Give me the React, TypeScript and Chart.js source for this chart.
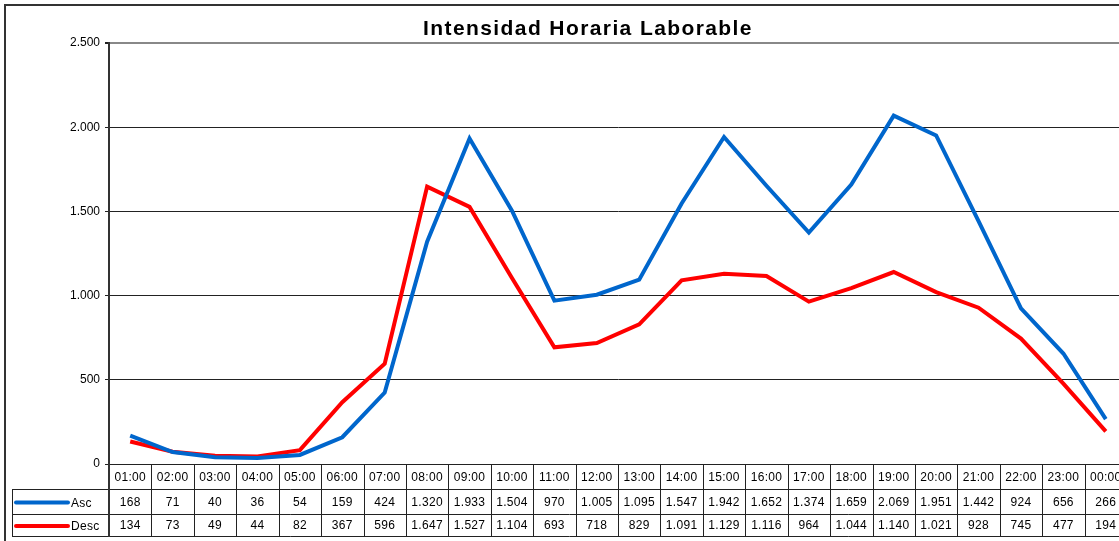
import React, { useEffect, useRef } from "react";
import { Chart, registerables } from "chart.js";

Chart.register(...registerables);

const TITLE = "Intensidad Horaria Laborable";
const HOURS = ["01:00","02:00","03:00","04:00","05:00","06:00","07:00","08:00","09:00","10:00","11:00","12:00","13:00","14:00","15:00","16:00","17:00","18:00","19:00","20:00","21:00","22:00","23:00","00:00"];
const ASC = [168,71,40,36,54,159,424,1320,1933,1504,970,1005,1095,1547,1942,1652,1374,1659,2069,1951,1442,924,656,266];
const DESC = [134,73,49,44,82,367,596,1647,1527,1104,693,718,829,1091,1129,1116,964,1044,1140,1021,928,745,477,194];
const SERIES_NAMES = ["Asc", "Desc"];
const SERIES_COLORS = ["#0066CC", "#FF0000"];
const Y_MAX = 2500;
const Y_STEP = 500;

const fmt = (v: number) => String(Math.round(v)).replace(/\B(?=(\d{3})+(?!\d))/g, ".");
const FONT = "Liberation Sans, Arial, sans-serif";

const decorPlugin = {
  id: "decor",
  afterDraw(chart: any) {
    const ctx = chart.ctx as any;
    const { left, right, bottom } = chart.chartArea;
    const W = chart.width;
    const H = chart.height;
    ctx.save();
    // outer border
    ctx.strokeStyle = "#333";
    ctx.lineWidth = 2;
    ctx.beginPath();
    ctx.moveTo(5, H + 2);
    ctx.lineTo(5, 5);
    ctx.lineTo(W + 2, 5);
    ctx.stroke();
    // title
    ctx.fillStyle = "#000";
    ctx.font = `bold 21px ${FONT}`;
    ctx.letterSpacing = "1.4px";
    ctx.textAlign = "center";
    ctx.textBaseline = "alphabetic";
    ctx.fillText(TITLE, 588, 35);
    ctx.letterSpacing = "0.3px";

    // table
    const n = HOURS.length;
    const cw = (right - left) / n;
    const rowTops = [bottom, 489, 514, 536];
    const tableLeft = 12;
    ctx.strokeStyle = "#222";
    ctx.lineWidth = 1;
    ctx.beginPath();
    ctx.moveTo(tableLeft, rowTops[1] + 0.5); ctx.lineTo(W, rowTops[1] + 0.5);
    ctx.moveTo(tableLeft, rowTops[2] + 0.5); ctx.lineTo(W, rowTops[2] + 0.5);
    ctx.moveTo(tableLeft, rowTops[3] + 0.5); ctx.lineTo(W, rowTops[3] + 0.5);
    ctx.moveTo(tableLeft + 0.5, rowTops[1]); ctx.lineTo(tableLeft + 0.5, rowTops[3]);
    for (let i = 1; i <= n; i++) {
      const x = Math.round(left + i * cw) + 0.5;
      ctx.moveTo(x, bottom); ctx.lineTo(x, rowTops[3]);
    }
    ctx.stroke();
    ctx.strokeStyle = "#333";
    ctx.lineWidth = 2;
    ctx.beginPath();
    ctx.moveTo(left, bottom); ctx.lineTo(left, rowTops[3] + 1);
    ctx.stroke();

    ctx.fillStyle = "#000";
    ctx.font = `12px ${FONT}`;
    ctx.textAlign = "center";
    ctx.textBaseline = "middle";
    const xs = chart.scales.x;
    const rowData = [ASC, DESC];
    for (let i = 0; i < n; i++) {
      const cx = xs.getPixelForValue(i);
      ctx.fillText(HOURS[i], cx, (rowTops[0] + rowTops[1]) / 2 + 1);
      for (let r = 0; r < 2; r++) {
        ctx.fillText(fmt(rowData[r][i]), cx, (rowTops[r + 1] + rowTops[r + 2]) / 2 + 1);
      }
    }
    for (let r = 0; r < 2; r++) {
      const cy = (rowTops[r + 1] + rowTops[r + 2]) / 2 + 1;
      ctx.strokeStyle = SERIES_COLORS[r];
      ctx.lineWidth = 4;
      ctx.lineCap = "round";
      ctx.beginPath();
      ctx.moveTo(16, cy); ctx.lineTo(68, cy);
      ctx.stroke();
      ctx.fillStyle = "#000";
      ctx.textAlign = "left";
      ctx.fillText(SERIES_NAMES[r], 71, cy + 1);
    }
    ctx.restore();
  },
};

export default function App() {
  const ref = useRef<HTMLCanvasElement>(null);
  useEffect(() => {
    document.body.style.margin = "0";
    document.body.style.overflow = "hidden";
    const chart = new Chart(ref.current!, {
      type: "line",
      data: {
        labels: HOURS,
        datasets: [
          { label: SERIES_NAMES[0], data: ASC, borderColor: SERIES_COLORS[0], borderWidth: 4, pointRadius: 0, tension: 0, fill: false },
          { label: SERIES_NAMES[1], data: DESC, borderColor: SERIES_COLORS[1], borderWidth: 4, pointRadius: 0, tension: 0, fill: false },
        ],
      },
      options: {
        animation: false,
        responsive: false,
        layout: { padding: { top: 43, bottom: 77, left: 0, right: 0 } },
        plugins: { legend: { display: false }, title: { display: false }, tooltip: { enabled: false } },
        scales: {
          x: { display: false, offset: true },
          y: {
            min: 0,
            max: Y_MAX,
            afterFit: (s: any) => { s.width = 109; },
            ticks: { stepSize: Y_STEP, color: "#000", font: { family: FONT, size: 12 }, padding: 5, callback: (v: any) => fmt(Number(v)) },
            grid: {
              color: (c: any) => (c.tick && c.tick.value === Y_MAX ? "#888" : "#222"),
              lineWidth: (c: any) => (c.tick && c.tick.value === Y_MAX ? 2 : 1),
              tickLength: 4,
              tickColor: "#222",
            },
            border: { color: "#333", width: 2 },
          },
        },
      },
      plugins: [decorPlugin],
    });
    return () => chart.destroy();
  }, []);
  return (
    <div style={{ width: 1119, height: 541, overflow: "hidden", position: "relative" }}>
      <canvas ref={ref} width={1127} height={541} style={{ display: "block" }} />
    </div>
  );
}
